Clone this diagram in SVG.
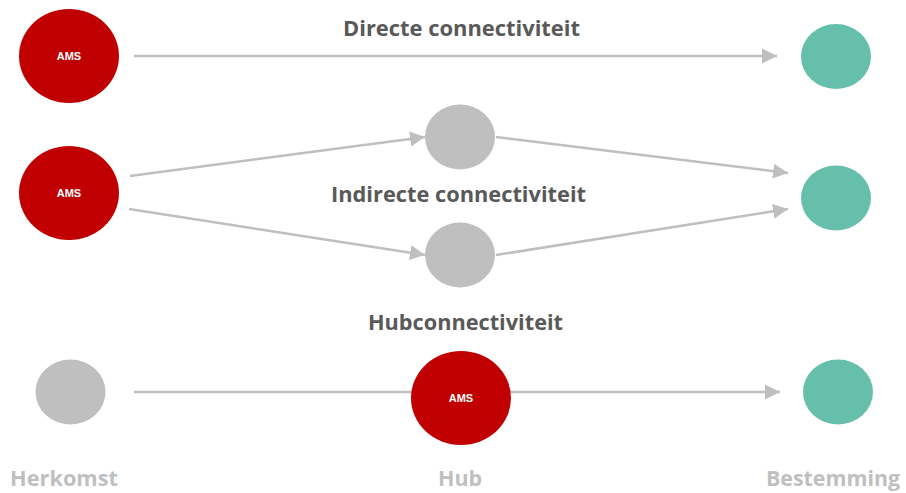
<svg xmlns="http://www.w3.org/2000/svg" width="906" height="493" viewBox="0 0 906 493">
<style>
.ams{fill:#c00000}
.hub{fill:#bfbfbf}
.dst{fill:#66bfab}
.al{font-family:"Liberation Sans",Arial,sans-serif;font-weight:bold;font-size:11px;fill:#ffffff;text-anchor:middle}
.ti{font-family:"Open Sans","Liberation Sans",sans-serif;font-weight:bold;font-size:22px;fill:#595959;text-anchor:middle}
.ax{font-family:"Open Sans","Liberation Sans",sans-serif;font-weight:bold;font-size:21px;fill:#bfbfbf;text-anchor:middle}
.c{stroke:#bfbfbf;stroke-width:2.5;fill:none}
</style>
<defs>
<marker id="ah" markerUnits="userSpaceOnUse" markerWidth="16" markerHeight="16" viewBox="0 0 16 16" refX="15" refY="8" orient="auto">
<path d="M0,0.5 L15,8 L0,15.5 Z" fill="#bfbfbf"/>
</marker>
</defs>
<g id="connectors">
<line class="c" x1="134" y1="56" x2="777" y2="56" marker-end="url(#ah)"/>
<line class="c" x1="130" y1="176" x2="425" y2="137" marker-end="url(#ah)"/>
<line class="c" x1="129" y1="209" x2="425" y2="255" marker-end="url(#ah)"/>
<line class="c" x1="496" y1="137" x2="788" y2="173" marker-end="url(#ah)"/>
<line class="c" x1="496" y1="255" x2="788" y2="209" marker-end="url(#ah)"/>
<line class="c" x1="134" y1="392" x2="780" y2="392" marker-end="url(#ah)"/>
</g>
<g id="ams-direct"><ellipse class="ams" cx="69" cy="56" rx="50" ry="47"/><text class="al" x="69" y="60">AMS</text></g>
<g id="dest-direct"><ellipse class="dst" cx="836" cy="56.5" rx="35" ry="32.5"/></g>
<g id="ams-indirect"><ellipse class="ams" cx="69" cy="193" rx="50" ry="47"/><text class="al" x="69" y="197">AMS</text></g>
<g id="hub-upper"><ellipse class="hub" cx="460" cy="137" rx="35" ry="32.5"/></g>
<g id="hub-lower"><ellipse class="hub" cx="460" cy="255" rx="35" ry="32.5"/></g>
<g id="dest-indirect"><ellipse class="dst" cx="836" cy="198" rx="35" ry="32.5"/></g>
<g id="origin-hub"><ellipse class="hub" cx="70.5" cy="392" rx="35" ry="32.5"/></g>
<g id="ams-hub"><ellipse class="ams" cx="461" cy="398" rx="50" ry="47"/><text class="al" x="461" y="402">AMS</text></g>
<g id="dest-hub"><ellipse class="dst" cx="838" cy="392" rx="35" ry="32.5"/></g>
<g id="labels">
<text class="ti" x="461.5" y="36" textLength="237" lengthAdjust="spacingAndGlyphs">Directe connectiviteit</text>
<text class="ti" x="458.5" y="202" textLength="255" lengthAdjust="spacingAndGlyphs">Indirecte connectiviteit</text>
<text class="ti" x="465.5" y="330" textLength="195" lengthAdjust="spacingAndGlyphs">Hubconnectiviteit</text>
<text class="ax" x="64" y="486" textLength="108" lengthAdjust="spacingAndGlyphs">Herkomst</text>
<text class="ax" x="460" y="486" textLength="44" lengthAdjust="spacingAndGlyphs">Hub</text>
<text class="ax" x="833" y="486" textLength="134" lengthAdjust="spacingAndGlyphs">Bestemming</text>
</g>
</svg>
